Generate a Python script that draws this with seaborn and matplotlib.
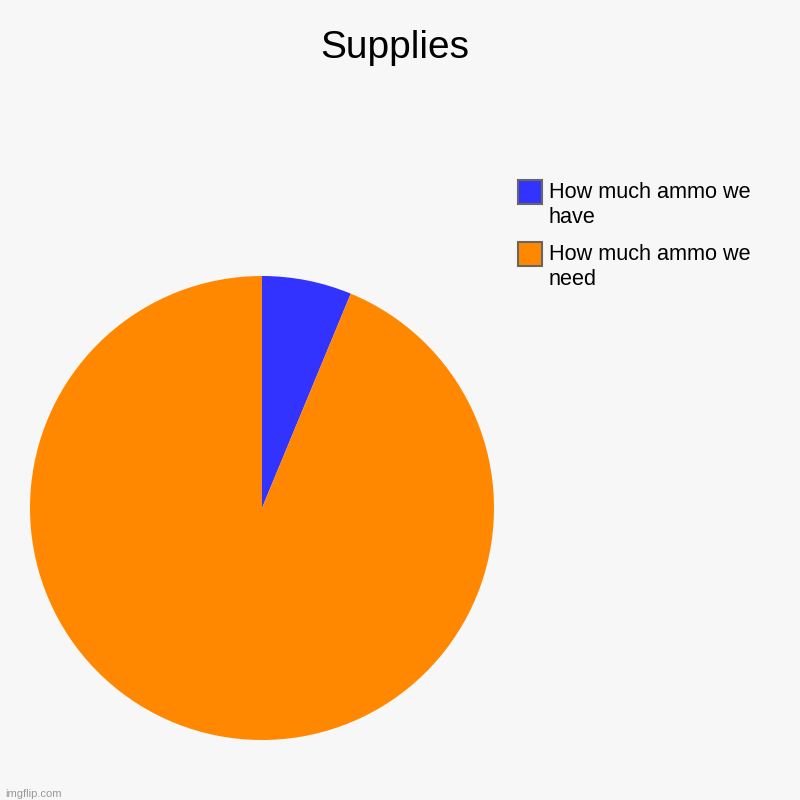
import matplotlib
matplotlib.use("Agg")
import matplotlib.pyplot as plt
import seaborn as sns
from matplotlib.patches import Rectangle

# Data
labels = ["How much ammo we\nhave", "How much ammo we\nneed"]
values = [1, 15]
colors = ["#3333ff", "#ff8800"]

sns.set_style("white")
plt.rcParams['font.family'] = ['Liberation Sans', 'DejaVu Sans']

W = H = 800
fig = plt.figure(figsize=(8, 8), dpi=100, facecolor="#f7f7f7")
ax = fig.add_axes([0.0375, 0.075, 0.58, 0.58])
ax.set_facecolor("#f7f7f7")

ax.pie(values, colors=colors, startangle=90, counterclock=False,
       radius=1, wedgeprops=dict(linewidth=0))
ax.set_xlim(-1, 1)
ax.set_ylim(-1, 1)
ax.set_aspect("equal")
ax.axis("off")

fig.text(0.494, 0.963, "Supplies", ha="center", va="top", fontsize=28, color="black")

# legend, drawn by hand so the swatch lines up with the first text line
for i, (lab, col) in enumerate(zip(labels, colors)):
    top = 180 + 62 * i
    fig.patches.append(Rectangle((518 / W, 1 - (top + 24) / H), 24 / W, 24 / H,
                                 transform=fig.transFigure, facecolor=col,
                                 edgecolor="#666666", linewidth=1.5))
    fig.text(549 / W, 1 - (top + 2) / H, lab, ha="left", va="top", fontsize=15.6,
             linespacing=1.25, color="black")

fig.text(0.006, 0.004, "imgflip.com", fontsize=8, color="#999999")

fig.savefig("out.png", dpi=100, facecolor=fig.get_facecolor())
